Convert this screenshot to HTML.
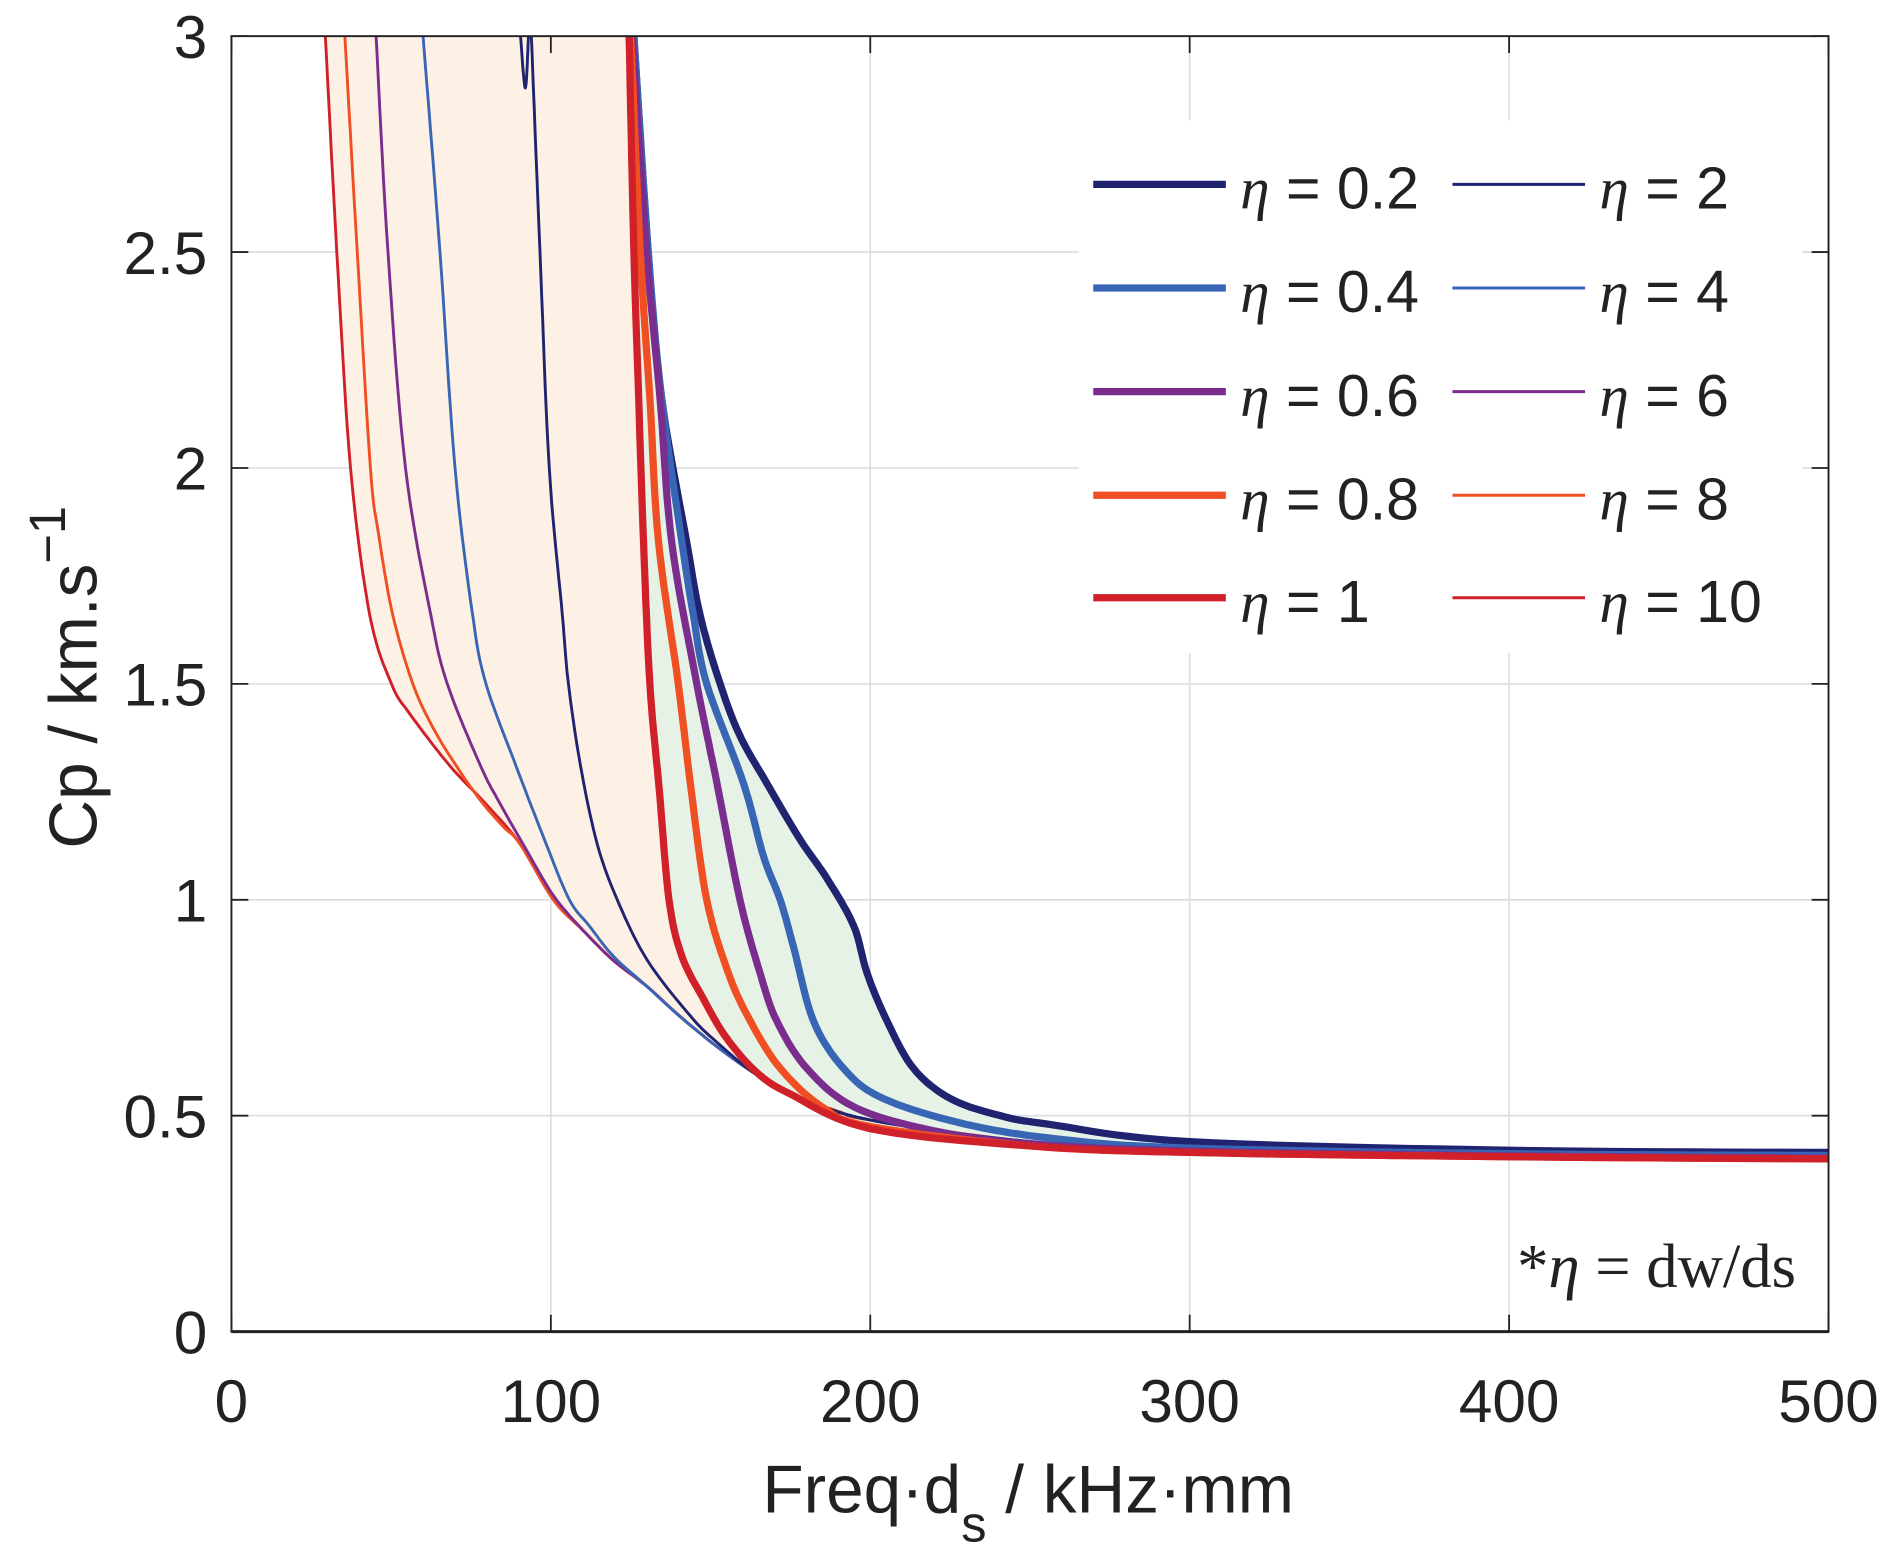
<!DOCTYPE html>
<html><head><meta charset="utf-8"><style>
html,body{margin:0;padding:0;background:#fff}
svg{display:block}
text{font-family:"Liberation Sans",sans-serif;fill:#222}
</style></head><body>
<svg id="chart" width="1890" height="1563" viewBox="0 0 1568 1297" preserveAspectRatio="none" xmlns="http://www.w3.org/2000/svg">
<g id="grid"></g>
<g id="fills"></g>
<g id="series"></g>
<g id="axes"></g>
<g id="legend"></g>
<text x="1490" y="1068" text-anchor="end" style="font-family:'Liberation Serif',serif;font-size:52px">*<tspan font-style="italic">η</tspan> = dw/ds</text>
<text x="853" y="1255" text-anchor="middle" style="font-size:56px">Freq·d<tspan dy="24" font-size="42">s</tspan><tspan dy="-24"> / kHz·mm</tspan></text>
<text transform="translate(80,562) rotate(-90)" text-anchor="middle" style="font-size:56px">Cp / km.s<tspan dy="-26" font-size="42">−1</tspan></text>
</svg>
<script>
const xTicks=[0,100,200,300,400,500];
const yTicks=[0,0.5,1,1.5,2,2.5,3];
const yTickLabels=["0","0.5","1","1.5","2","2.5","3"];
const eta10x=[29.4,33,37.3,43.3,50.1,55.9,68.4,79.9,90.3,100.8,110,119.5,130,140.4,152,163.4,175,190,200,250,300,400,500];
const eta10y=[3,2.5,2.0,1.66,1.5,1.43,1.31,1.22,1.13,1.0,0.93,0.86,0.8,0.73,0.66,0.60,0.55,0.51,0.49,0.44,0.42,0.405,0.40];
const eta8x=[35.5,39.4,43.5,46,50.5,56.8,63,70.4,78,85,90.3,100.8,110,119.5,130,140.4,152,163.4,175,200,250,300,500];
const eta8y=[3,2.5,2.0,1.85,1.66,1.5,1.4,1.31,1.23,1.17,1.13,1.0,0.93,0.86,0.8,0.73,0.66,0.60,0.55,0.49,0.44,0.42,0.40];
const eta6x=[45.3,49,54.5,62.4,67.6,78,84.3,92,100.8,110,119.5,130,140.4,152,163.4,175,200,250,300,500];
const eta6y=[3,2.5,2.0,1.66,1.5,1.31,1.22,1.12,1.01,0.93,0.86,0.8,0.73,0.66,0.60,0.55,0.49,0.44,0.42,0.40];
const eta4x=[60,65.3,70,75.5,79.7,89.1,98.5,105.8,112,119.5,130,140.4,152,163.4,175,200,250,300,500];
const eta4y=[3,2.5,2.0,1.66,1.5,1.31,1.13,1.0,0.94,0.87,0.8,0.73,0.66,0.60,0.55,0.49,0.44,0.42,0.40];
const eta2x=[93.9,96.6,99.5,103.6,105.5,109.3,114.5,120.8,130.2,143.8,152,163.4,175,200,250,300,500];
const eta2y=[3,2.5,2.0,1.66,1.5,1.31,1.13,1.0,0.86,0.73,0.67,0.60,0.55,0.49,0.44,0.42,0.405];
const spikeX=[90.5,92,93];
const spikeY=[3,2.88,3];
const eta1x=[124.5,126,127.5,129,131,134,137,141,147.8,155,164.5,175,200,250,300,400,500];
const eta1y=[3,2.5,2.16,1.83,1.5,1.25,1.0,0.87,0.77,0.68,0.60,0.55,0.47,0.43,0.415,0.405,0.40];
const eta08x=[125,128,131,133.7,139.9,144,148.8,155.6,162.4,171.8,185,200,250,300,400,500];
const eta08y=[3,2.5,2.16,1.83,1.5,1.25,1.0,0.83,0.72,0.61,0.52,0.475,0.43,0.415,0.405,0.40];
const eta06x=[125.5,130,134.2,137.8,145.7,152,159.2,165.5,170.7,180.1,195,220,250,300,400,500];
const eta06y=[3,2.5,2.16,1.83,1.5,1.27,1.0,0.83,0.72,0.61,0.52,0.465,0.435,0.418,0.407,0.402];
const eta04x=[126,130.5,134.7,141,144.6,148.8,160.3,166.6,171.8,176,182.2,191.6,204,230,260,300,400,500];
const eta04y=[3,2.5,2.16,1.83,1.66,1.5,1.27,1.1,1.0,0.89,0.72,0.61,0.54,0.48,0.445,0.425,0.412,0.408];
const eta02x=[126,130.5,134.7,142.5,146.7,153,159.2,167.6,178,186.4,194.8,199,205.2,213.5,225,240.7,256,300,400,500];
const eta02y=[3,2.5,2.16,1.83,1.66,1.5,1.38,1.27,1.14,1.05,0.94,0.83,0.72,0.61,0.54,0.50,0.48,0.44,0.42,0.415];

const X0=192,X1=1517,Y0=1105,Y1=30;
const sx=v=>X0+(v-0)/(500-0)*(X1-X0);
const sy=v=>Y0-(v-0)/(3-0)*(Y0-Y1);
const NS="http://www.w3.org/2000/svg";
function mk(tag,parent){const e=document.createElementNS(NS,tag);parent.appendChild(e);return e;}
function smooth(xs,ys){
  const P=xs.map((x,i)=>[sx(x),sy(ys[i])]);
  if(P.length<3)return P.map(p=>p[0].toFixed(1)+","+p[1].toFixed(1));
  const out=[];
  for(let i=0;i<P.length-1;i++){
    const p0=P[Math.max(0,i-1)],p1=P[i],p2=P[i+1],p3=P[Math.min(P.length-1,i+2)];
    for(let k=0;k<10;k++){const t=k/10,t2=t*t,t3=t2*t;
      const f=(a,b,c,d)=>0.5*((2*b)+(-a+c)*t+(2*a-5*b+4*c-d)*t2+(-a+3*b-3*c+d)*t3);
      out.push(f(p0[0],p1[0],p2[0],p3[0]).toFixed(1)+","+f(p0[1],p1[1],p2[1],p3[1]).toFixed(1));}
  }
  const L=P[P.length-1];out.push(L[0].toFixed(1)+","+L[1].toFixed(1));
  return out;
}

const grid=document.getElementById('grid');
xTicks.forEach(t=>{const l=mk('line',grid);


l.setAttribute('x1',sx(t));l.setAttribute('x2',sx(t));l.setAttribute('y1',Y1);l.setAttribute('y2',Y0);l.setAttribute('stroke','#dcdcdc');l.setAttribute('stroke-width','1.3');});
yTicks.forEach(t=>{const l=mk('line',grid);


l.setAttribute('x1',X0);l.setAttribute('x2',X1);l.setAttribute('y1',sy(t));l.setAttribute('y2',sy(t));l.setAttribute('stroke','#dcdcdc');l.setAttribute('stroke-width','1.3');});

const fills=document.getElementById('fills');
let p=mk('polygon',fills);


p.setAttribute('points',smooth(eta10x,eta10y).concat(smooth(eta1x,eta1y).reverse()).join(' '));
p.setAttribute('fill','#fdf0e4');
p=mk('polygon',fills);


p.setAttribute('points',smooth(eta1x,eta1y).concat(smooth(eta02x,eta02y).reverse()).join(' '));
p.setAttribute('fill','#e5f2e5');

const navy='#1f2370',blue='#3866b4',purple='#7b2d8e',orange='#f04e23',red='#d0202a';
const series=[
 [eta10x,eta10y,red,2.4,'line-eta-10'],[eta8x,eta8y,orange,2.4,'line-eta-8'],[eta6x,eta6y,purple,2.4,'line-eta-6'],
 [eta4x,eta4y,blue,2.4,'line-eta-4'],[eta2x,eta2y,navy,2.4,'line-eta-2'],[spikeX,spikeY,navy,2.4,'line-eta-2-spike'],
 [eta02x,eta02y,navy,6,'line-eta-0-2'],[eta04x,eta04y,blue,6,'line-eta-0-4'],[eta06x,eta06y,purple,6,'line-eta-0-6'],
 [eta08x,eta08y,orange,6,'line-eta-0-8'],[eta1x,eta1y,red,6,'line-eta-1']];
const sg=document.getElementById('series');
const cp=mk('clipPath',sg);cp.setAttribute('id','clip');
const cr=mk('rect',cp);cr.setAttribute('x',X0);cr.setAttribute('y',Y1);cr.setAttribute('width',X1-X0);cr.setAttribute('height',Y0-Y1);
series.forEach(s=>{const l=mk('polyline',sg);


l.setAttribute('points',smooth(s[0],s[1]).join(' '));l.setAttribute('fill','none');l.setAttribute('stroke',s[2]);
l.setAttribute('stroke-width',s[3]);l.setAttribute('stroke-linejoin','round');l.setAttribute('clip-path','url(#clip)');});

const ax=document.getElementById('axes');
const box=mk('rect',ax);


box.setAttribute('x',X0);box.setAttribute('y',Y1);box.setAttribute('width',X1-X0);box.setAttribute('height',Y0-Y1);box.setAttribute('fill','none');box.setAttribute('stroke','#222');box.setAttribute('stroke-width','1.6');
const bl=mk('line',ax);bl.setAttribute('x1',X0);bl.setAttribute('x2',X1);bl.setAttribute('y1',Y0);bl.setAttribute('y2',Y0);bl.setAttribute('stroke','#222');bl.setAttribute('stroke-width','2.5');
xTicks.forEach(t=>{[[Y0,Y0-14],[Y1,Y1+14]].forEach(a=>{const l=mk('line',ax);l.setAttribute('x1',sx(t));l.setAttribute('x2',sx(t));l.setAttribute('y1',a[0]);l.setAttribute('y2',a[1]);l.setAttribute('stroke','#222');l.setAttribute('stroke-width','1.5');});
const tx=mk('text',ax);


tx.setAttribute('x',sx(t));tx.setAttribute('y',1180);tx.setAttribute('text-anchor','middle');tx.setAttribute('font-size','50');tx.textContent=t;});
yTicks.forEach((t,i)=>{[[X0,X0+14],[X1,X1-14]].forEach(a=>{const l=mk('line',ax);l.setAttribute('y1',sy(t));l.setAttribute('y2',sy(t));l.setAttribute('x1',a[0]);l.setAttribute('x2',a[1]);l.setAttribute('stroke','#222');l.setAttribute('stroke-width','1.5');});
const tx=mk('text',ax);


tx.setAttribute('x',172);tx.setAttribute('y',sy(t)+18);tx.setAttribute('text-anchor','end');tx.setAttribute('font-size','50');tx.textContent=yTickLabels[i];});

const lg=document.getElementById('legend');
const lb=mk('rect',lg);


lb.setAttribute('x',895);lb.setAttribute('y',100);lb.setAttribute('width',600);lb.setAttribute('height',442);lb.setAttribute('fill','#fff');
const legThick=[['0.2',navy],['0.4',blue],['0.6',purple],['0.8',orange],['1',red]];
const legThin=[['2',navy],['4',blue],['6',purple],['8',orange],['10',red]];
const rowsY=[153,239,325,411,496];
function entry(lbl,col,y,x0,w){const g=mk('g',lg);


const l=mk('line',g);l.setAttribute('x1',x0);l.setAttribute('x2',x0+110);l.setAttribute('y1',y);l.setAttribute('y2',y);l.setAttribute('stroke',col);l.setAttribute('stroke-width',w);
const t=mk('text',g);t.setAttribute('x',x0+122);t.setAttribute('y',y+20);t.setAttribute('font-size','49');
const e=mk('tspan',t);e.setAttribute('font-style','italic');e.setAttribute('font-family','Liberation Serif, serif');e.textContent='η';
const r=mk('tspan',t);r.textContent=' = '+lbl;}
legThick.forEach((d,i)=>entry(d[0],d[1],rowsY[i],907,6));
legThin.forEach((d,i)=>entry(d[0],d[1],rowsY[i],1205,2.5));
</script>
</body></html>
